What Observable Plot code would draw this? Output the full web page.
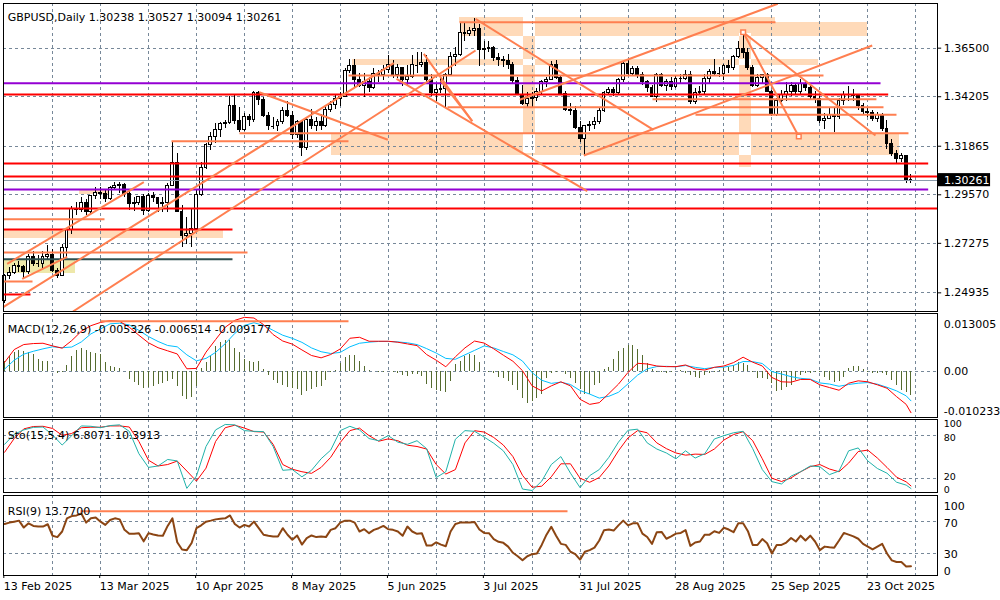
<!DOCTYPE html>
<html><head><meta charset="utf-8">
<script src="https://cdn.jsdelivr.net/npm/d3@7"></script>
<script src="https://cdn.jsdelivr.net/npm/@observablehq/plot@0.6"></script>
<style>
html,body{margin:0;padding:0;background:#fff;}
#chart{position:relative;width:1000px;height:600px;overflow:hidden;background:#fff;}
</style></head><body><div id="chart"></div>
<script>
// ---------- DATA ----------
const symbolName = "GBPUSD,Daily";
const tickBars = [0, 20, 40, 60, 80, 100, 120, 140, 160, 180];
const tickLabels = ["13 Feb 2025","13 Mar 2025","10 Apr 2025","8 May 2025","5 Jun 2025","3 Jul 2025","31 Jul 2025","28 Aug 2025","25 Sep 2025","23 Oct 2025"];
const priceTicks = [1.365, 1.34205, 1.31865, 1.2957, 1.27275, 1.24935];

const open = [1.2455,1.2575,1.2585,1.2620,1.2615,1.2590,1.2665,1.2630,1.2630,1.2665,1.2670,1.2595,1.2575,1.2705,1.2790,1.2890,1.2885,1.2920,1.2875,1.2950,
1.2965,1.2960,1.2935,1.2990,1.3000,1.3005,1.2960,1.2915,1.2920,1.2945,1.2880,1.2950,1.2940,1.2915,1.2920,1.3000,1.3105,1.2875,1.2760,1.2770,
1.2795,1.2955,1.3085,1.3190,1.3230,1.3265,1.3290,1.3295,1.3375,1.3305,1.3265,1.3325,1.3310,1.3440,1.3405,1.3330,1.3280,1.3280,1.3300,1.3355,
1.3330,1.3240,1.3300,1.3180,1.3310,1.3280,1.3300,1.3280,1.3360,1.3380,1.3410,1.3420,1.3540,1.3565,1.3500,1.3470,1.3490,1.3460,1.3530,1.3525,
1.3545,1.3570,1.3525,1.3555,1.3500,1.3515,1.3570,1.3570,1.3580,1.3500,1.3440,1.3450,1.3455,1.3525,1.3610,1.3620,1.3720,1.3715,1.3730,1.3740,
1.3640,1.3645,1.3650,1.3605,1.3595,1.3590,1.3570,1.3495,1.3430,1.3385,1.3410,1.3415,1.3445,1.3490,1.3500,1.3570,1.3510,1.3435,1.3360,1.3355,
1.3275,1.3220,1.3280,1.3285,1.3300,1.3355,1.3440,1.3450,1.3440,1.3500,1.3575,1.3530,1.3550,1.3525,1.3490,1.3460,1.3420,1.3525,1.3470,1.3490,
1.3465,1.3505,1.3505,1.3525,1.3395,1.3440,1.3445,1.3505,1.3535,1.3530,1.3530,1.3565,1.3555,1.3610,1.3645,1.3625,1.3555,1.3470,1.3510,1.3525,
1.3445,1.3335,1.3400,1.3430,1.3445,1.3470,1.3445,1.3480,1.3460,1.3420,1.3410,1.3305,1.3315,1.3335,1.3325,1.3400,1.3430,1.3430,1.3425,1.3375,
1.3350,1.3345,1.3315,1.3335,1.3270,1.3195,1.3150,1.3125,1.3140,1.30238];
const high = [1.2580,1.2615,1.2630,1.2640,1.2625,1.2675,1.2690,1.2670,1.2690,1.2715,1.2700,1.2610,1.2720,1.2795,1.2900,1.2920,1.2945,1.2935,1.2955,1.2990,
1.2990,1.2975,1.2995,1.3015,1.3015,1.3010,1.2975,1.2945,1.2950,1.2960,1.2965,1.2970,1.2945,1.2945,1.3010,1.3205,1.3150,1.2905,1.2850,1.2890,
1.2975,1.3110,1.3200,1.3250,1.3295,1.3300,1.3310,1.3420,1.3425,1.3370,1.3340,1.3335,1.3445,1.3445,1.3415,1.3345,1.3320,1.3315,1.3370,1.3400,
1.3350,1.3310,1.3305,1.3320,1.3360,1.3320,1.3335,1.3375,1.3400,1.3425,1.3440,1.3555,1.3595,1.3595,1.3530,1.3530,1.3510,1.3555,1.3545,1.3570,
1.3615,1.3590,1.3575,1.3560,1.3570,1.3615,1.3630,1.3630,1.3615,1.3525,1.3480,1.3515,1.3530,1.3630,1.3655,1.3770,1.3770,1.3750,1.3788,1.3760,
1.3680,1.3680,1.3660,1.3625,1.3610,1.3620,1.3580,1.3510,1.3475,1.3440,1.3440,1.3460,1.3495,1.3510,1.3585,1.3590,1.3515,1.3445,1.3390,1.3375,
1.3305,1.3285,1.3305,1.3320,1.3365,1.3445,1.3465,1.3465,1.3505,1.3585,1.3595,1.3565,1.3565,1.3535,1.3495,1.3475,1.3530,1.3530,1.3500,1.3510,
1.3515,1.3525,1.3545,1.3540,1.3460,1.3470,1.3525,1.3550,1.3595,1.3560,1.3575,1.3590,1.3615,1.3680,1.3726,1.3650,1.3570,1.3525,1.3525,1.3530,
1.3450,1.3410,1.3450,1.3490,1.3490,1.3480,1.3500,1.3495,1.3475,1.3445,1.3420,1.3340,1.3370,1.3365,1.3410,1.3445,1.3470,1.3455,1.3430,1.3390,
1.3365,1.3355,1.3345,1.3340,1.3310,1.3220,1.3165,1.3150,1.3145,1.30527];
const low = [1.2445,1.2555,1.2580,1.2590,1.2560,1.2580,1.2620,1.2615,1.2605,1.2645,1.2590,1.2560,1.2570,1.2660,1.2770,1.2860,1.2875,1.2860,1.2870,1.2935,
1.2935,1.2920,1.2930,1.2975,1.2965,1.2945,1.2885,1.2880,1.2905,1.2860,1.2875,1.2920,1.2875,1.2875,1.2875,1.2995,1.2880,1.2710,1.2720,1.2710,
1.2790,1.2950,1.3075,1.3165,1.3200,1.3230,1.3270,1.3290,1.3290,1.3250,1.3255,1.3280,1.3300,1.3380,1.3320,1.3260,1.3265,1.3255,1.3290,1.3320,
1.3220,1.3225,1.3140,1.3165,1.3265,1.3255,1.3260,1.3275,1.3345,1.3360,1.3375,1.3415,1.3530,1.3460,1.3465,1.3415,1.3440,1.3455,1.3490,1.3495,
1.3530,1.3505,1.3505,1.3470,1.3470,1.3505,1.3530,1.3560,1.3490,1.3420,1.3400,1.3435,1.3370,1.3520,1.3565,1.3610,1.3680,1.3705,1.3705,1.3565,
1.3595,1.3630,1.3585,1.3565,1.3560,1.3550,1.3485,1.3425,1.3380,1.3365,1.3365,1.3400,1.3430,1.3465,1.3495,1.3500,1.3425,1.3350,1.3330,1.3265,
1.3205,1.3140,1.3255,1.3265,1.3290,1.3345,1.3425,1.3420,1.3425,1.3490,1.3520,1.3515,1.3505,1.3475,1.3440,1.3420,1.3395,1.3465,1.3445,1.3450,
1.3460,1.3480,1.3495,1.3385,1.3385,1.3425,1.3430,1.3480,1.3520,1.3510,1.3495,1.3530,1.3545,1.3600,1.3600,1.3545,1.3465,1.3465,1.3480,1.3440,
1.3325,1.3325,1.3395,1.3400,1.3420,1.3430,1.3430,1.3445,1.3405,1.3390,1.3295,1.3265,1.3315,1.3250,1.3315,1.3380,1.3400,1.3400,1.3355,1.3335,
1.3320,1.3305,1.3300,1.3255,1.3170,1.3140,1.3100,1.3110,1.3010,1.30094];
const close = [1.2575,1.2585,1.2620,1.2615,1.2590,1.2665,1.2630,1.2630,1.2665,1.2670,1.2595,1.2575,1.2705,1.2790,1.2890,1.2885,1.2920,1.2875,1.2950,1.2965,
1.2960,1.2935,1.2990,1.3000,1.3005,1.2960,1.2915,1.2920,1.2945,1.2880,1.2950,1.2940,1.2915,1.2920,1.3000,1.3105,1.2875,1.2760,1.2770,1.2795,
1.2955,1.3085,1.3190,1.3230,1.3265,1.3290,1.3295,1.3375,1.3305,1.3265,1.3325,1.3310,1.3440,1.3405,1.3330,1.3280,1.3280,1.3300,1.3355,1.3330,
1.3240,1.3300,1.3180,1.3310,1.3280,1.3300,1.3280,1.3360,1.3380,1.3410,1.3420,1.3540,1.3565,1.3500,1.3470,1.3490,1.3460,1.3530,1.3525,1.3545,
1.3570,1.3525,1.3555,1.3500,1.3515,1.3570,1.3570,1.3580,1.3500,1.3440,1.3450,1.3455,1.3525,1.3610,1.3620,1.3720,1.3715,1.3730,1.3740,1.3640,
1.3645,1.3650,1.3605,1.3595,1.3590,1.3570,1.3495,1.3430,1.3385,1.3410,1.3415,1.3445,1.3490,1.3500,1.3570,1.3510,1.3435,1.3360,1.3355,1.3275,
1.3220,1.3280,1.3285,1.3300,1.3355,1.3440,1.3450,1.3440,1.3500,1.3575,1.3530,1.3550,1.3525,1.3490,1.3460,1.3420,1.3525,1.3470,1.3490,1.3465,
1.3505,1.3505,1.3525,1.3395,1.3440,1.3445,1.3505,1.3535,1.3530,1.3530,1.3565,1.3555,1.3610,1.3645,1.3625,1.3555,1.3470,1.3510,1.3525,1.3445,
1.3335,1.3400,1.3430,1.3445,1.3470,1.3445,1.3480,1.3460,1.3420,1.3410,1.3305,1.3315,1.3335,1.3325,1.3400,1.3430,1.3430,1.3425,1.3375,1.3350,
1.3345,1.3315,1.3335,1.3270,1.3195,1.3150,1.3125,1.3140,1.3024,1.30261];

// chart objects (bar index, price)
const redLevels = [[1.34310,-0.3,184.25],[1.31049,-0.3,192.59],[1.30434,-0.3,194.47],[1.28922,-0.3,194.47],[1.27929,-0.3,47.52],[1.24857,-0.3,5.40]];
const purpleLevels = [[1.34844,-0.3,182.65],[1.29820,-0.3,192.59]];
const slateLevels = [[1.26525,-0.3,47.52]];
const coralLevels = [[1.26842,-0.3,50.65],[1.25471,-0.3,5.82],[1.28416,-0.3,20.83],[1.32103,34.80,71.71],[1.32481,48.98,188.48],
  [1.37728,94.86,160.75],[1.35208,71.71,170.76],[1.34088,135.1,181.8],[1.33710,92.36,183.27],[1.33351,144.07,185.98]];
const trendLines = [[-0.29,1.24261,81.16,1.35790],[14.26,1.24053,98.2,1.36390],[0.54,1.26308,29.03,1.30165],[3.67,1.25599,13.05,1.26639],
  [53.09,1.34419,79.91,1.32169],[81.72,1.35052,121.49,1.29739],[87.41,1.36234,97.51,1.33047],[90.9,1.34972,97.51,1.33047],
  [98.2,1.37888,135.31,1.32641],[120.78,1.31427,180.92,1.36626],[107.43,1.34060,161.23,1.38597],[154.01,1.37255,165.61,1.32325],
  [154.01,1.37255,181.6,1.32372]];
const anchorPoints = [[154.01,1.37255],[165.61,1.32325]];
const peachZones = [[94.86,160.75,1.37935,1.37728],[95.07,179.94,1.37728,1.37052],[108.2,110.7,1.37935,1.31521],[72.55,169.72,1.35964,1.35681],
  [68.17,186.61,1.32467,1.31427],[153.25,155.75,1.37193,1.30860],[-0.3,45.65,1.27929,1.27527],[15.62,22.08,1.29806,1.29560]];
const yellowZones = [[-0.3,14.78,1.26511,1.25864]];

// indicators
const macdLegend = "MACD(12,26,9) -0.005326 -0.006514 -0.009177";
const stochLegend = "Sto(15,5,4) 6.8071 10.3913";
const rsiLegend = "RSI(9) 13.7700";
const macdMain = [0.00210,0.00498,0.00611,0.00633,0.00640,0.00580,0.00529,0.00700,0.00909,0.01034,
0.01107,0.01146,0.01130,0.01000,0.00820,0.00650,0.00540,0.00470,0.00400,0.00067,
0.00075,0.00440,0.00722,0.00998,0.01154,0.01221,0.01206,0.01057,0.00834,0.00690,
0.00620,0.00490,0.00365,0.00313,0.00387,0.00513,0.00752,0.00774,0.00685,0.00685,
0.00685,0.00663,0.00625,0.00587,0.00387,0.00260,0.00112,0.00336,0.00536,0.00689,
0.00644,0.00515,0.00372,0.00236,0.00024,-0.00316,-0.00429,-0.00316,-0.00225,-0.00316,
-0.00618,-0.00731,-0.00693,-0.00489,-0.00278,-0.00014,0.00190,0.00175,0.00130,0.00115,
0.00115,0.00153,0.00062,0.00039,0.00100,0.00130,0.00206,0.00327,0.00215,0.00130,
-0.00128,-0.00225,-0.00233,-0.00172,-0.00172,-0.00293,-0.00354,-0.00414,-0.00257,-0.00203,
-0.00225,-0.00293,-0.00369,-0.00558,-0.00731,-0.00918];
const macdSignal = [0.00060,0.00260,0.00395,0.00460,0.00514,0.00560,0.00540,0.00555,0.00670,0.00850,
0.00960,0.01075,0.01090,0.01050,0.00930,0.00790,0.00680,0.00590,0.00560,0.00380,
0.00245,0.00300,0.00435,0.00630,0.00860,0.01040,0.01100,0.01040,0.00930,0.00820,
0.00750,0.00660,0.00535,0.00450,0.00410,0.00435,0.00560,0.00640,0.00665,0.00680,
0.00680,0.00670,0.00650,0.00610,0.00520,0.00420,0.00300,0.00280,0.00380,0.00480,
0.00580,0.00535,0.00455,0.00380,0.00240,-0.00020,-0.00190,-0.00260,-0.00233,-0.00285,
-0.00420,-0.00500,-0.00590,-0.00550,-0.00460,-0.00270,-0.00075,0.00065,0.00117,0.00122,
0.00113,0.00140,0.00100,0.00070,0.00098,0.00105,0.00143,0.00230,0.00227,0.00185,
0.00005,-0.00050,-0.00110,-0.00147,-0.00165,-0.00250,-0.00275,-0.00325,-0.00285,-0.00256,
-0.00242,-0.00278,-0.00348,-0.00428,-0.00540,-0.00651];
const macdHist = [0.00238,0.00350,0.00424,0.00484,0.00462,0.00424,0.00387,0.00276,0.00238,0.00223,
0,-0.00037,-0.00010,0.00141,0.00350,0.00484,0.00514,0.00484,0.00439,0.00410,
0.00387,0.00208,0.00127,0.00089,0.00074,0.00015,-0.00171,-0.00246,-0.00305,-0.00380,
-0.00357,-0.00320,-0.00283,-0.00261,-0.00208,-0.00171,-0.00335,-0.00558,-0.00618,-0.00581,
-0.00320,0.00067,0.00201,0.00350,0.00573,0.00648,0.00692,0.00692,0.00514,0.00424,
0.00276,0.00238,0.00201,0.00223,0.00052,-0.00074,-0.00194,-0.00261,-0.00305,-0.00343,
-0.00380,-0.00395,-0.00529,-0.00432,-0.00395,-0.00357,-0.00320,-0.00194,-0.00022,0.00030,
0.00186,0.00313,0.00365,0.00365,0.00238,0.00127,0.00037,0.00005,-0.00005,-0.00005,
0.00005,-0.00022,-0.00045,-0.00082,-0.00112,-0.00067,-0.00060,-0.00112,-0.00283,-0.00380,
-0.00410,-0.00432,-0.00462,-0.00208,0.00156,0.00231,0.00343,0.00380,0.00375,0.00219,
0,-0.00015,-0.00045,-0.00121,-0.00159,-0.00212,-0.00310,-0.00423,-0.00590,-0.00703,
-0.00665,-0.00590,-0.00499,-0.00159,-0.00045,-0.00008,0.00015,-0.00068,-0.00144,-0.00272,
-0.00408,-0.00499,-0.00499,-0.00310,-0.00257,0.00045,0.00106,0.00272,0.00446,0.00522,
0.00597,0.00597,0.00499,0.00355,0.00181,0.00045,-0.00008,-0.00008,-0.00030,-0.00008,
0.00008,0.00030,-0.00045,-0.00083,-0.00121,-0.00159,-0.00083,-0.00045,-0.00008,0.00030,
0.00068,0.00091,0.00144,0.00197,0.00181,0.00144,-0.00008,-0.00159,-0.00159,-0.00181,
-0.00257,-0.00438,-0.00423,-0.00348,-0.00310,-0.00197,-0.00083,-0.00045,-0.00045,-0.00023,
-0.00008,-0.00121,-0.00197,-0.00234,-0.00212,-0.00121,0.00068,0.00121,0.00121,0.00045,
-0.00008,-0.00045,-0.00045,-0.00030,-0.00083,-0.00197,-0.00310,-0.00423,-0.00461,-0.00533];
const macdLevel = [[0.01135,20.0,71.71]];
const stochMain = [68,82,88,91.5,92,81,67,80,93.5,93, 91,94,95,86,55,36,38,47,45,7,
24,65,88,95.5,95,87,86,85.6,65,32, 33,23,32,48,60,87,93,88,76,73,
80,71,68,73,62,22,30,75,87,86, 78,69.5,59,40,6,4,17,40,51,28,
8,24.6,33,50,71,87.5,89,70,61.5,56, 48,59,49,55,75.4,80,84,86,62,33,
16.3,13.1,24,30,38,37,26,31,59,63, 45,34.5,28,15.5,11.5,6.8];
const stochSignal = [57,76,89.4,92.7,93,90,80.5,83,91,91.7, 91.7,93.5,93.5,92,72,46,38,40,44.8,31,
17,35,72,91,94.5,90.5,85.6,85,68,40, 33.5,30,27.8,36,50,70.6,87,90.5,80,72.3,
75.5,73,66.8,65,61.5,40,26.8,33,70,86.9, 85,77.5,67,51,25,8.5,10,23,41,41,
21,15.4,22,38,59,77,87,84,70,62, 56,53,54.4,54,61.5,74,81.5,85.5,73,48,
21,16.5,21.5,30,37,40,33.8,30,42,58, 60,49,36,22.5,16,10.4];
const rsi = [67.5,69.2,70.4,71.7,62.9,68.3,65,64.2,64.2,67.1, 52.5,50.8,57.9,74.6,77.5,78.3,80.8,69.2,74.6,75.8,
70.4,66.3,72.5,74.6,73.3,60,55,55,55.8,45.4, 55.8,54.2,52.9,52.5,65,74.6,44.2,35,34.2,43.3,
62.1,65.8,70.4,71.7,73.3,74.2,74.6,78.3,67.5,62.9, 66.3,64.2,70.4,62.1,53.8,52.5,51.7,51.7,62.1,53.8,
47.5,52.9,41.3,49.6,52.9,50.8,51.7,50.8,60,62.1, 69.2,71.7,71.7,69.2,57.9,60.8,55.8,60,62.1,65,
60.8,60,57.9,52.5,64.2,57.9,55,55.8,40,40, 44.2,41.3,39.2,57.9,67.5,69.2,69.2,69.2,70,60.4,
56.1,55.7,48.3,44.8,43.5,38.7,30.9,26.5,21.3,26.5, 29.1,30,40.9,53.9,63.9,52.6,42.2,40.9,32.2,29.1,
22.2,32.2,34.3,37.4,46.5,59.6,60.4,59.1,65.7,71.7, 65.7,68.3,68.3,55.2,50.9,42.2,57,57.4,48.7,51.7,
55.2,56.1,59.6,39.6,43.9,45.2,53.9,53.9,58.3,56.1, 62.6,60.4,57,68.3,68.3,58.3,40.9,40.9,48.3,43,
30,40.9,40.9,43.9,49.6,45.2,52.6,46.5,52.6,45.2, 34.3,38.7,37.8,37.4,46.5,56.1,53.9,51.7,48.7,42.2,
38.7,35.2,38.7,42.2,30,21.3,19.1,19.1,13.5,13.8];
const rsiLevel = [[83.7,15.83,117.38]];

// ---------- BUILD ----------
const N = close.length;
const bars = d3.range(N).map(i => ({i, o: open[i], h: high[i], l: low[i], c: close[i]}));
const sampleBars = d3.range(0, N - 1, 2).concat([N - 1]);
const series = arr => arr.map((v, k) => ({i: sampleBars[k], v}));
const last = close[N - 1];
const gridBars = d3.range(10, 195, 10);
const xDom = [-0.292, 194.47];
const GRID = "#778899", CORAL = "#FF7F50";
const gridOpts = {stroke: GRID, strokeDasharray: "3,3", strokeWidth: 1, shapeRendering: "crispEdges"};

// XOR-like overlap of background rectangles (MT4 draws overlaps inverted)
const overlaps = [];
for (let a = 0; a < peachZones.length; a++) for (let b = a + 1; b < peachZones.length; b++) {
  const A = peachZones[a], B = peachZones[b];
  const x1 = Math.max(A[0], B[0]), x2 = Math.min(A[1], B[1]);
  const lo = Math.max(Math.min(A[2], A[3]), Math.min(B[2], B[3]));
  const hi = Math.min(Math.max(A[2], A[3]), Math.max(B[2], B[3]));
  if (x1 < x2 && lo < hi) overlaps.push([x1, x2, lo, hi]);
}

function base(h, mt, mb, yDomain) {
  return {width: 1000, height: h, marginLeft: 2.7, marginRight: 63.3, marginTop: mt, marginBottom: mb,
    x: {domain: xDom, axis: null}, y: {domain: yDomain, axis: null},
    style: {fontFamily: "'DejaVu Sans', sans-serif", fontSize: "11px", color: "black", background: "transparent", overflow: "visible"}};
}
const levelLinks = (arr, color) => Plot.link(arr, {x1: d => d[1], x2: d => d[2], y1: d => d[0], y2: d => d[0], stroke: color, strokeWidth: 2});
const rightLabel = (v, txt, dy, fs = 11) => Plot.text([v], {x: () => xDom[1], y: d => d, text: () => txt, dx: 6.5, dy, textAnchor: "start", fontSize: fs, fill: "black"});
const legend = (txt, dy) => Plot.text([txt], {frameAnchor: "top-left", dx: 4.6, dy, textAnchor: "start", fontSize: 11, fill: "black"});

// Main price panel
const main = Plot.plot({
  ...base(312, 2.7, 1, [1.24053, 1.386256]),
  marks: [
    Plot.rect(peachZones, {x1: d => d[0], x2: d => d[1], y1: d => d[2], y2: d => d[3], fill: "#FFDAB9", shapeRendering: "crispEdges"}),
    Plot.rect(overlaps, {x1: d => d[0], x2: d => d[1], y1: d => d[2], y2: d => d[3], fill: "white", shapeRendering: "crispEdges"}),
    Plot.rect(yellowZones, {x1: d => d[0], x2: d => d[1], y1: d => d[2], y2: d => d[3], fill: "#EEE8AA", shapeRendering: "crispEdges"}),
    Plot.ruleY(priceTicks, gridOpts),
    Plot.ruleX(gridBars, gridOpts),
    Plot.ruleX(bars, {x: "i", y1: "l", y2: "h", stroke: "black", strokeWidth: 1, shapeRendering: "crispEdges"}),
    Plot.rect(bars, {x1: d => d.i - 0.3, x2: d => d.i + 0.3, y1: "o", y2: "c", fill: d => d.c >= d.o ? "white" : "black", stroke: "black", strokeWidth: 1, shapeRendering: "crispEdges"}),
    Plot.ruleY(bars.filter(d => Math.abs(d.c - d.o) < 0.00006), {x1: d => d.i - 0.35, x2: d => d.i + 0.35, y: "c", stroke: "black", strokeWidth: 1, shapeRendering: "crispEdges"}),
    Plot.ruleY([last], {stroke: "#8a9aaa", strokeWidth: 1, shapeRendering: "crispEdges"}),
    levelLinks(coralLevels, CORAL),
    levelLinks(slateLevels, "#2F4F4F"),
    levelLinks(purpleLevels, "#9400D3"),
    levelLinks(redLevels, "#FF0000"),
    Plot.link(trendLines, {x1: d => d[0], y1: d => d[1], x2: d => d[2], y2: d => d[3], stroke: CORAL, strokeWidth: 2, clip: true}),
    Plot.dot(anchorPoints, {x: d => d[0], y: d => d[1], symbol: "square", r: 2.6, stroke: CORAL, strokeWidth: 1.5, fill: "white"}),
    Plot.frame({stroke: "black", strokeWidth: 1, shapeRendering: "crispEdges"}),
    Plot.axisY(priceTicks, {anchor: "right", tickSize: 3.5, tickPadding: 3, tickFormat: d => d.toFixed(5), fontSize: 11, label: null}),
    Plot.rect([last], {x1: () => 194.6, x2: () => 205.6, y1: d => d - 0.0031, y2: d => d + 0.0031, fill: "black"}),
    Plot.text([last], {x: () => xDom[1], y: d => d, text: d => d.toFixed(5), dx: 6.8, textAnchor: "start", fill: "white", fontSize: 11}),
    legend(`${symbolName} ${open[N-1].toFixed(5)} ${high[N-1].toFixed(5)} ${low[N-1].toFixed(5)} ${close[N-1].toFixed(5)}`, 10)
  ]
});

// MACD panel
const macdPanel = Plot.plot({
  ...base(106, 1.3, 1.1, [-0.010233, 0.013005]),
  marks: [
    Plot.ruleY([0], gridOpts),
    Plot.ruleX(gridBars, gridOpts),
    Plot.ruleX(macdHist.map((v, i) => ({i, v})), {x: "i", y1: 0, y2: "v", stroke: "#556B2F", strokeWidth: 1, shapeRendering: "crispEdges"}),
    Plot.line(series(macdSignal), {x: "i", y: "v", stroke: "#00BFFF", strokeWidth: 1}),
    Plot.line(series(macdMain), {x: "i", y: "v", stroke: "#FF0000", strokeWidth: 1}),
    legend(macdLegend, 11.7),
    levelLinks(macdLevel, CORAL),
    Plot.frame({stroke: "black", strokeWidth: 1, shapeRendering: "crispEdges"}),
    rightLabel(0.013005, "0.013005", 10.2),
    rightLabel(0, "0.00", 0),
    rightLabel(-0.010233, "-0.010233", -6.1)
  ]
});

// Stochastic panel
const stochPanel = Plot.plot({
  ...base(76, 1, 1.7, [0.83, 102.4]),
  marks: [
    Plot.ruleY([20, 80], gridOpts),
    Plot.ruleX(gridBars, gridOpts),
    Plot.line(series(stochSignal), {x: "i", y: "v", stroke: "#FF0000", strokeWidth: 1}),
    Plot.line(series(stochMain), {x: "i", y: "v", stroke: "#20B2AA", strokeWidth: 1}),
    legend(stochLegend, 11.7),
    Plot.frame({stroke: "black", strokeWidth: 1, shapeRendering: "crispEdges"}),
    rightLabel(100, "100", 3.2, 9.5),
    rightLabel(80, "80", 2.2, 9.5),
    rightLabel(20, "20", -2.2, 9.5),
    rightLabel(0, "0", -3.4, 9.5)
  ]
});

// RSI panel
const rsiPanel = Plot.plot({
  ...base(106, 0.7, 25, [2.03, 104.0]),
  marks: [
    Plot.ruleY([30, 70], gridOpts),
    Plot.ruleX(gridBars, gridOpts),
    levelLinks(rsiLevel, CORAL),
    Plot.line(rsi.map((v, i) => ({i, v})), {x: "i", y: "v", stroke: "#8B4513", strokeWidth: 2}),
    legend(rsiLegend, 12),
    Plot.frame({stroke: "black", strokeWidth: 1, shapeRendering: "crispEdges"}),
    rightLabel(100, "100", 7.9),
    rightLabel(70, "70", 1.1),
    rightLabel(30, "30", 0.7),
    rightLabel(0, "0", -5.9),
    Plot.axisX(tickBars, {anchor: "bottom", tickSize: 3, tickPadding: 4, tickFormat: d => tickLabels[tickBars.indexOf(d)], textAnchor: "start", dx: -0.8, fontSize: 11, label: null})
  ]
});

const chart = document.getElementById("chart");
[[main, 0], [macdPanel, 312], [stochPanel, 418], [rsiPanel, 494]].forEach(([svg, top]) => {
  svg.style.position = "absolute";
  svg.style.left = "0px";
  svg.style.top = top + "px";
  chart.appendChild(svg);
});
</script></body></html>
